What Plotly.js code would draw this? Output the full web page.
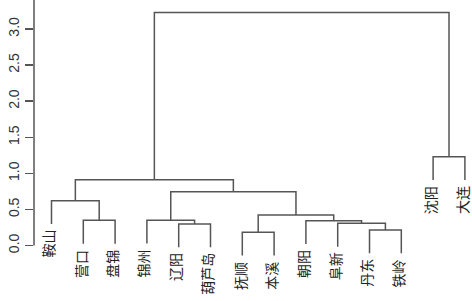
<!DOCTYPE html>
<html>
<head>
<meta charset="utf-8">
<script src="https://cdn.plot.ly/plotly-3.0.1.min.js"></script>
<style>html,body{margin:0;padding:0;background:#fff}#chart{width:472px;height:301px}</style>
</head>
<body>
<div id="chart"></div>
<script>
// Leaf labels, left-to-right order in the dendrogram
const labels = ["鞍山","营口","盘锦","锦州","辽阳","葫芦岛","抚顺","本溪","朝阳","阜新","丹东","铁岭","沈阳","大连"];
// hclust-style merge table: negative = leaf (1-based index in labels), positive = earlier merge (1-based)
const mergeLeft  = [-7, -11, -5, -10, -9, -2, -4, 1, -1, 7,  9, -13, 11];
const mergeRight = [-8, -12, -6,   2,  4, -3,  3, 5,  6, 8, 10, -14, 12];
const mergeHeight = [0.183, 0.215, 0.298, 0.307, 0.344, 0.349, 0.351, 0.422, 0.62, 0.745, 0.91, 1.23, 3.23];
const hang = 0.1;
const yTicks = [0, 0.5, 1.0, 1.5, 2.0, 2.5, 3.0];

const maxH = Math.max(...mergeHeight);
const hangH = hang * maxH;
const mx = [], xs = [], ys = [];
const leafBottom = new Array(labels.length);
function node(id, parentH) {
  if (id < 0) {
    const i = -id - 1;
    leafBottom[i] = parentH - hangH;
    return {x: i + 1, h: parentH - hangH};
  }
  return {x: mx[id - 1], h: mergeHeight[id - 1]};
}
for (let k = 0; k < mergeHeight.length; k++) {
  const h = mergeHeight[k];
  const a = node(mergeLeft[k], h), b = node(mergeRight[k], h);
  mx[k] = (a.x + b.x) / 2;
  xs.push(a.x, a.x, b.x, b.x, null);
  ys.push(a.h, h, h, b.h, null);
}

const trace = {x: xs, y: ys, type: 'scatter', mode: 'lines',
  line: {color: '#555555', width: 1.5}, hoverinfo: 'skip', showlegend: false};

const yTop = 3.402, yBot = -0.769;
const annotations = labels.map((t, i) => ({
  x: i + 1, y: leafBottom[i], xref: 'x', yref: 'y', text: t, showarrow: false,
  textangle: -90, xanchor: 'center', yanchor: 'top', yshift: -5, xshift: -3,
  borderpad: 0,
  font: {family: 'Noto Sans CJK SC', size: 14, color: '#222'}
}));

const layout = {
  width: 472, height: 301,
  margin: {l: 34, r: 0, t: 0, b: 0},
  paper_bgcolor: '#fff', plot_bgcolor: '#fff',
  showlegend: false,
  xaxis: {range: [0.4497, 14.223], visible: false, fixedrange: true},
  yaxis: {range: [yBot, yTop], tickvals: yTicks, tickformat: '.1f', ticks: 'outside', ticklen: 8,
    tickwidth: 1.5, tickcolor: '#555', showgrid: false, zeroline: false, showline: false,
    tickangle: -90, tickfont: {family: 'Liberation Sans', size: 14, color: '#333'}},
  shapes: [{type: 'line', xref: 'paper', x0: 0, x1: 0, yref: 'y', y0: 0, y1: yTop,
    line: {color: '#555', width: 1.5}}],
  annotations: annotations
};
Plotly.newPlot('chart', [trace], layout, {staticPlot: true, displayModeBar: false});
</script>
</body>
</html>
